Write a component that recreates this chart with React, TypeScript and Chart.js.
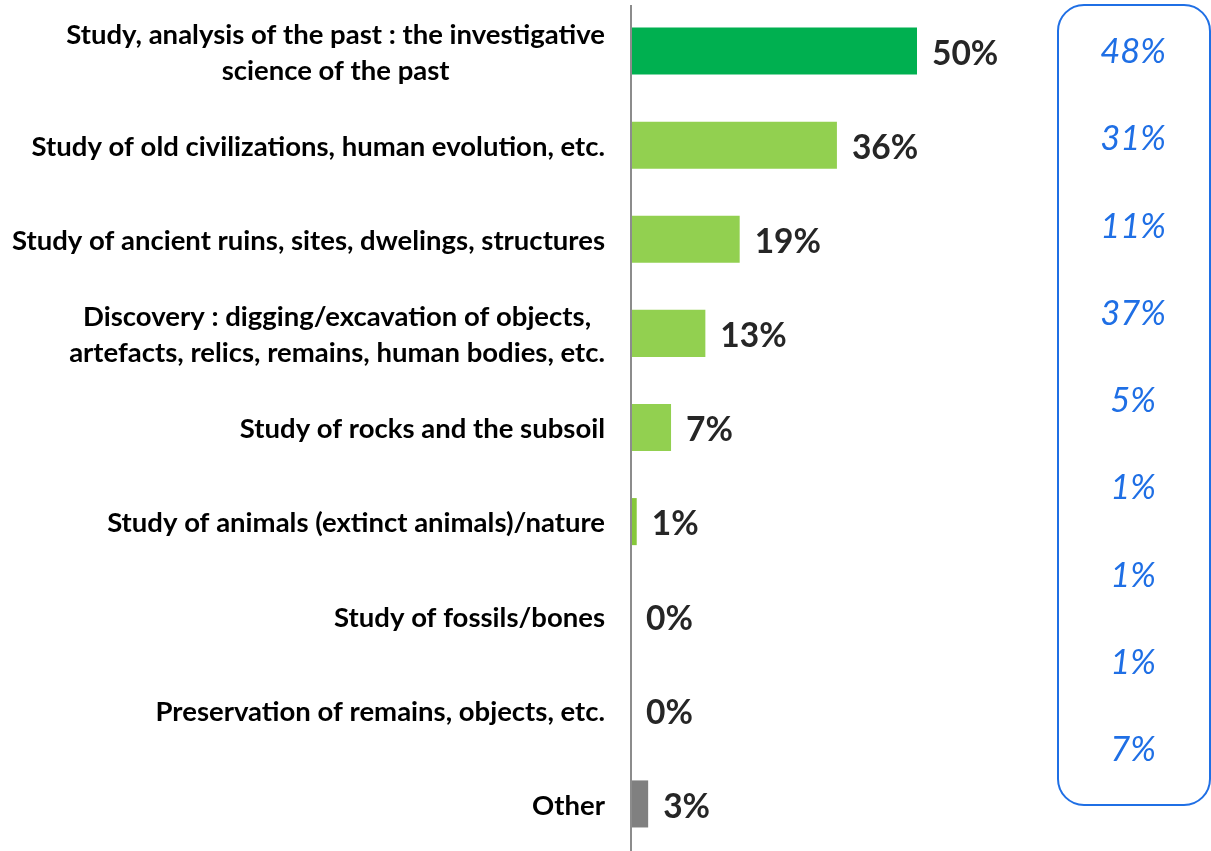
import React, { useEffect, useRef } from "react";
import { Chart, registerables } from "chart.js";
Chart.register(...registerables);

const categories: string[][] = [
  ["Study, analysis of the past : the investigative", "science of the past"],
  ["Study of old civilizations, human evolution, etc."],
  ["Study of ancient ruins, sites, dwelings, structures"],
  ["Discovery : digging/excavation of objects,", "artefacts, relics, remains, human bodies, etc."],
  ["Study of rocks and the subsoil"],
  ["Study of animals (extinct animals)/nature"],
  ["Study of fossils/bones"],
  ["Preservation of remains, objects, etc."],
  ["Other"],
];
const values = [50, 36, 19, 13, 7, 1, 0, 0, 3];
const barColors = ["#00B050", "#92D050", "#92D050", "#92D050", "#92D050", "#86C83A", "#92D050", "#92D050", "#808080"];
const comparisonValues = [48, 31, 11, 37, 5, 1, 1, 1, 7];

const LABEL_FONT = "bold 27.5px Lato";
const VALUE_FONT = "bold 33.5px Lato";
const COMP_FONT = "italic 34.5px Lato";
const BLUE = "#1F6FE5";

const overlay = {
  id: "overlay",
  afterDatasetsDraw(chart: any) {
    const ctx = chart.ctx as CanvasRenderingContext2D;
    const xs = chart.scales.x;
    const ys = chart.scales.y;
    const x0 = xs.getPixelForValue(0);
    ctx.save();
    // axis line
    ctx.strokeStyle = "#8C8C8C";
    ctx.lineWidth = 2;
    ctx.beginPath();
    ctx.moveTo(x0, 5);
    ctx.lineTo(x0, chart.height);
    ctx.stroke();

    // category labels
    ctx.font = LABEL_FONT;
    ctx.fillStyle = "#000000";
    ctx.textBaseline = "middle";
    ctx.textAlign = "center";
    const lineH = 36;
    categories.forEach((lines, i) => {
      const cy = ys.getPixelForValue(i) + 2;
      const maxW = Math.max(...lines.map((l) => ctx.measureText(l).width));
      const cx = x0 - 26 - maxW / 2;
      lines.forEach((l, j) => {
        const y = cy + (j - (lines.length - 1) / 2) * lineH;
        ctx.fillText(l, cx, y);
      });
    });

    // value labels
    ctx.font = VALUE_FONT;
    ctx.fillStyle = "#262626";
    ctx.textAlign = "left";
    values.forEach((v, i) => {
      const x = xs.getPixelForValue(v) + 15;
      const y = ys.getPixelForValue(i) + 3;
      ctx.fillText(v + "%", x, y);
    });

    // comparison box
    const bx = 1058, by = 5, bw = 152, bh = 800, r = 26;
    ctx.strokeStyle = BLUE;
    ctx.lineWidth = 2;
    ctx.beginPath();
    ctx.roundRect(bx, by, bw, bh, r);
    ctx.stroke();
    ctx.font = COMP_FONT;
    ctx.fillStyle = BLUE;
    ctx.textAlign = "center";
    const step = 87.25;
    comparisonValues.forEach((v, i) => {
      ctx.fillText(v + "%", bx + bw / 2 - 1, by + 47 + i * step);
    });
    ctx.restore();
  },
};

export default function App() {
  const ref = useRef<HTMLCanvasElement | null>(null);
  useEffect(() => {
    document.body.style.margin = "0";
    const chart = new Chart(ref.current!, {
      type: "bar",
      data: {
        labels: categories.map((c) => c.join(" ")),
        datasets: [
          {
            data: values,
            backgroundColor: barColors,
            borderWidth: 0,
            barPercentage: 0.5,
            categoryPercentage: 1,
          },
        ],
      },
      options: {
        indexAxis: "y",
        animation: false,
        responsive: true,
        maintainAspectRatio: false,
        layout: { padding: { left: 631, right: 8, top: 4, bottom: 0 } },
        plugins: { legend: { display: false }, tooltip: { enabled: false } },
        scales: {
          x: { display: false, min: 0, max: 100 },
          y: { display: false },
        },
      },
      plugins: [overlay],
    });
    return () => chart.destroy();
  }, []);
  return (
    <div style={{ position: "absolute", left: 0, top: 0, width: 1211, height: 851, background: "#fff" }}>
      <canvas ref={ref} />
    </div>
  );
}
